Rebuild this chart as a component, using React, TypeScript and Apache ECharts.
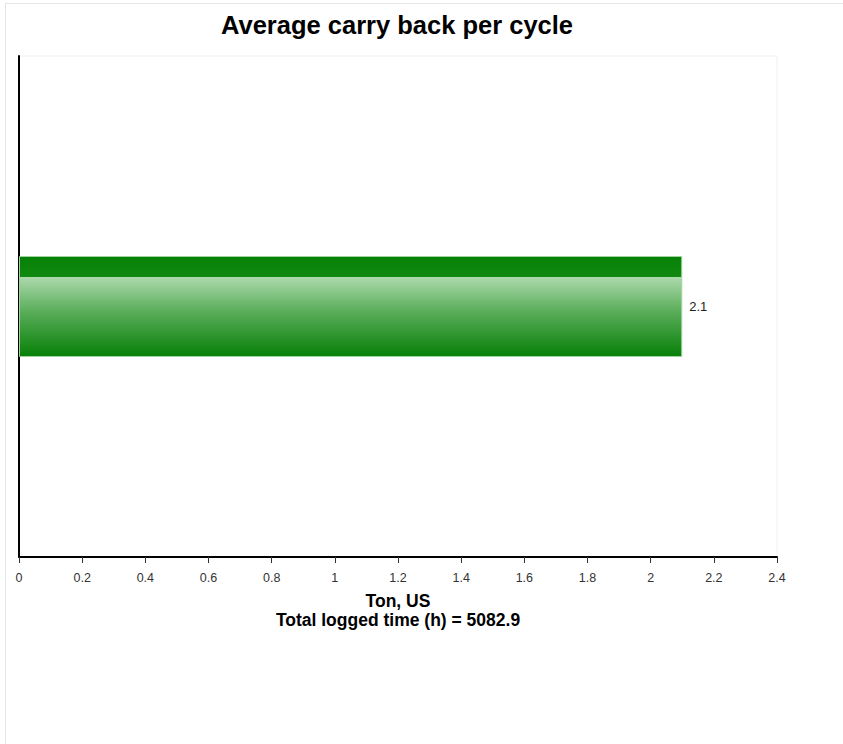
import React, { useEffect, useRef } from "react";
import * as echarts from "echarts";

const categories: string[] = [""];
const values: number[] = [2.1];
const titleText = "Average carry back per cycle";
const axisNameText = "Ton, US\nTotal logged time (h) = 5082.9";

export default function App() {
  const ref = useRef<HTMLDivElement>(null);
  useEffect(() => {
    if (!ref.current) return;
    const chart = echarts.init(ref.current, null, { renderer: "svg" });
    chart.setOption({
      animation: false,
      backgroundColor: "#ffffff",
      title: {
        text: titleText,
        left: 386,
        top: 3,
        textAlign: "center",
        textStyle: {
          fontFamily: "Liberation Sans, Arial, sans-serif",
          fontWeight: "bold",
          fontSize: 25.5,
          color: "#000",
        },
      },
      grid: {
        left: 13,
        top: 52,
        width: 758,
        height: 501,
        show: true,
        borderColor: "#f0f0f0",
        borderWidth: 1,
        backgroundColor: "transparent",
      },
      xAxis: {
        type: "value",
        min: 0,
        max: 2.4,
        interval: 0.2,
        name: axisNameText,
        nameLocation: "middle",
        nameGap: 34,
        nameTextStyle: {
          fontFamily: "Liberation Sans, Arial, sans-serif",
          fontWeight: "bold",
          fontSize: 17.5,
          color: "#000",
          lineHeight: 19,
        },
        axisLine: { show: true, lineStyle: { color: "#000", width: 2 } },
        axisTick: { show: true, length: 6, lineStyle: { color: "#333", width: 1 } },
        axisLabel: {
          fontFamily: "Liberation Sans, Arial, sans-serif",
          fontSize: 12.5,
          color: "#333",
          margin: 14,
          formatter: (v: number) => String(Math.round(v * 10) / 10),
        },
        splitLine: { show: false },
      },
      yAxis: {
        type: "category",
        data: categories,
        axisLine: { show: true, lineStyle: { color: "#000", width: 2 } },
        axisTick: { show: false },
        axisLabel: { show: false },
        splitLine: { show: false },
      },
      series: [
        {
          type: "bar",
          data: values,
          barWidth: 101,
          itemStyle: {
            color: new echarts.graphic.LinearGradient(0, 0, 0, 1, [
              { offset: 0, color: "#078007" },
              { offset: 0.2, color: "#118911" },
              { offset: 0.205, color: "#acd9ac" },
              { offset: 0.55, color: "#5aad5a" },
              { offset: 1, color: "#078007" },
            ]),
            borderColor: "#9fd49f",
            borderWidth: 1,
          },
          label: {
            show: true,
            position: "right",
            distance: 7,
            fontFamily: "Liberation Sans, Arial, sans-serif",
            fontSize: 13,
            color: "#222",
            formatter: (p: any) => String(p.value),
          },
        },
      ],
    });
    return () => chart.dispose();
  }, []);
  return (
    <div
      style={{
        position: "fixed",
        left: 5,
        top: 3,
        width: 900,
        height: 800,
        borderTop: "1px solid #e6e6e6",
        borderLeft: "1px solid #e6e6e6",
        background: "#fff",
      }}
    >
      <div ref={ref} style={{ width: 837, height: 740 }} />
    </div>
  );
}
